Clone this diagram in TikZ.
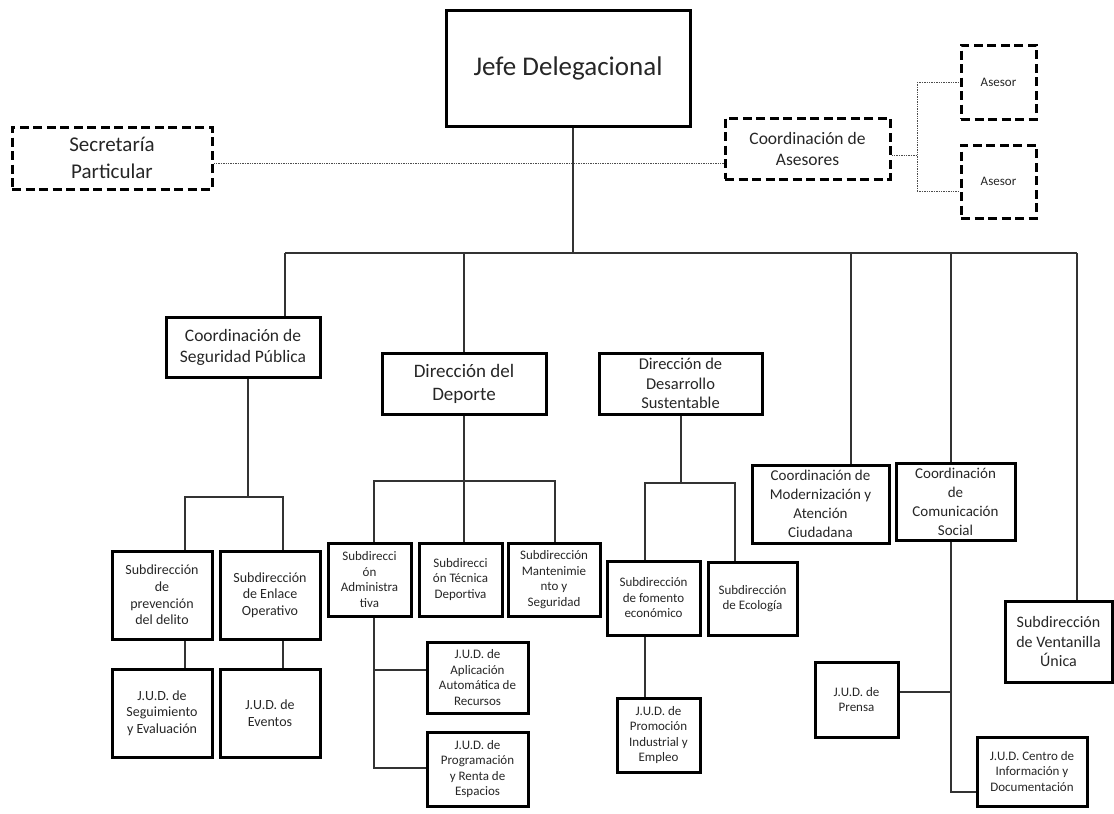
\documentclass[tikz,border=0pt]{standalone}
\usepackage{fontspec}
\setmainfont{Carlito}
\begin{document}
\begin{tikzpicture}[x=1pt,y=-1pt,
  box/.style={draw=black, line width=3pt, align=center, inner sep=1pt, text=black!85},
  dbox/.style={box, dash pattern=on 9pt off 4.5pt},
  link/.style={draw=black!80, line width=1.2pt},
  dotlink/.style={draw=black!70, line width=0.9pt, dash pattern=on 1.4pt off 1pt},
  fA/.style={font=\fontsize{27}{32}\selectfont},
  fB/.style={font=\fontsize{21}{27}\selectfont},
  fC/.style={font=\fontsize{17.5}{21}\selectfont},
  fD/.style={font=\fontsize{19}{23}\selectfont},
  fE/.style={font=\fontsize{15}{19}\selectfont},
  fF/.style={font=\fontsize{14}{16.7}\selectfont},
  fG/.style={font=\fontsize{13}{15.5}\selectfont},
  fH/.style={font=\fontsize{13}{16}\selectfont},
  sz/.style 2 args={minimum width=#1pt, minimum height=#2pt}
]
\useasboundingbox (0,0) rectangle (1114,814);

% top level
\node[box, fA, sz={244}{116}] (jefe) at (568,68) {Jefe Delegacional};
\node[dbox, fB, sz={200}{62}] (sec) at (112,158) {Secretaría\\Particular};
\node[dbox, fC, sz={165}{61}] (cas) at (807.5,148.5) {Coordinación de\\Asesores};
\node[dbox, fH, sz={75}{74}] (as1) at (998.5,82) {Asesor};
\node[dbox, fH, sz={75}{73}] (as2) at (998.5,181.5) {Asesor};

% staff lines
\coordinate (sl) at (0,163);
\draw[dotlink] (sec.east |- sl) -- (cas.west |- sl);
\coordinate (ax) at (917,155);
\draw[dotlink] (cas.east |- ax) -- (ax);
\draw[dotlink] (ax |- as1.west) -- (ax |- 0,191);
\draw[dotlink] (ax |- as1.west) -- (as1.west);
\draw[dotlink] (ax |- 0,191) -- (as2.west |- 0,191);

% second level
\node[box, fC, sz={154}{60}] (cseg) at (243,347) {Coordinación de\\Seguridad Pública};
\node[box, fD, sz={164}{61}] (dep) at (464,383.5) {Dirección del\\Deporte};
\node[box, font=\fontsize{16.5}{19.5}\selectfont, sz={163}{61}] (dds) at (680.5,383.5) {Dirección de\\Desarrollo\\Sustentable};
\node[box, fE, sz={137}{78}] (cmod) at (820.5,504) {Coordinación de\\Modernización y\\Atención\\Ciudadana};
\node[box, fE, sz={119}{77}] (ccom) at (955.5,501.5) {Coordinación\\de\\Comunicación\\Social};
\node[box, font=\fontsize{16}{19.5}\selectfont, sz={107}{81}] (vent) at (1058.5,641.5) {Subdirección\\de Ventanilla\\Única};

% main bus
\coordinate (bus) at (573,253);
\draw[link] (jefe.south -| bus) -- (bus);
\draw[link] (285,253) -- (1077,253);
\draw[link] (285,253) -- (cseg.north -| 285,0);
\draw[link] (dep.north |- bus) -- (dep.north);
\draw[link] (851,253) -- (cmod.north -| 851,0);
\draw[link] (951,253) -- (ccom.north -| 951,0);
\draw[link] (1077,253) -- (vent.north -| 1077,0);

% Seguridad Publica branch
\node[box, fF, sz={100}{88}] (spd) at (162,595) {Subdirección\\de\\prevención\\del delito};
\node[box, fF, sz={100}{88}] (sde) at (270,595) {Subdirección\\de Enlace\\Operativo};
\node[box, fF, sz={100}{88}] (jseg) at (162,713) {J.U.D. de\\Seguimiento\\y Evaluación};
\node[box, fF, sz={100}{88}] (jev) at (270,713) {J.U.D. de\\Eventos};
\draw[link] (cseg.south -| 248,0) -- (248,497);
\draw[link] (spd.north -| 185,0) -- (185,497) -- (283,497) -- (sde.north -| 283,0);
\draw[link] (spd.south -| 185,0) -- (jseg.north -| 185,0);
\draw[link] (sde.south -| 283,0) -- (jev.north -| 283,0);

% Deporte branch
\node[box, fG, sz={83}{73}] (sadm) at (369.5,579.5) {Subdirecci\\ón\\Administra\\tiva};
\node[box, fG, sz={83}{73}] (stec) at (460.5,579.5) {Subdirecci\\ón Técnica\\Deportiva};
\node[box, fG, sz={92}{73}] (smant) at (554,579.5) {Subdirección\\Mantenimie\\nto y\\Seguridad};
\node[box, fG, sz={101}{71}] (japl) at (477.5,677.5) {J.U.D. de\\Aplicación\\Automática de\\Recursos};
\node[box, fG, sz={101}{74}] (jprog) at (477.5,769) {J.U.D. de\\Programación\\y Renta de\\Espacios};
\draw[link] (dep.south) -- (464,481);
\draw[link] (sadm.north -| 374,0) -- (374,481) -- (555,481) -- (smant.north -| 555,0);
\draw[link] (464,481) -- (stec.north -| 464,0);
\draw[link] (sadm.south -| 374,0) -- (374,768) -- (jprog.west |- 0,768);
\draw[link] (374,670) -- (japl.west |- 0,670);

% Desarrollo Sustentable branch
\node[box, fG, sz={93}{74}] (sfom) at (653.5,598) {Subdirección\\de fomento\\económico};
\node[box, fG, sz={89}{73}] (seco) at (752.5,598.5) {Subdirección\\de Ecología};
\node[box, fG, sz={83}{74}] (jprom) at (658.5,735) {J.U.D. de\\Promoción\\Industrial y\\Empleo};
\draw[link] (dds.south -| 681,0) -- (681,483);
\draw[link] (sfom.north -| 645,0) -- (645,483) -- (735,483) -- (seco.north -| 735,0);
\draw[link] (sfom.south -| 645,0) -- (jprom.north -| 645,0);

% Comunicacion Social branch
\node[box, fG, sz={83}{75}] (jpren) at (856.5,699.5) {J.U.D. de\\Prensa};
\node[box, fG, sz={110}{69}] (jcen) at (1032,771.5) {J.U.D. Centro de\\Información y\\Documentación};
\draw[link] (ccom.south -| 951,0) -- (951,792) -- (jcen.west |- 0,792);
\draw[link] (951,692) -- (jpren.east |- 0,692);
\end{tikzpicture}
\end{document}
